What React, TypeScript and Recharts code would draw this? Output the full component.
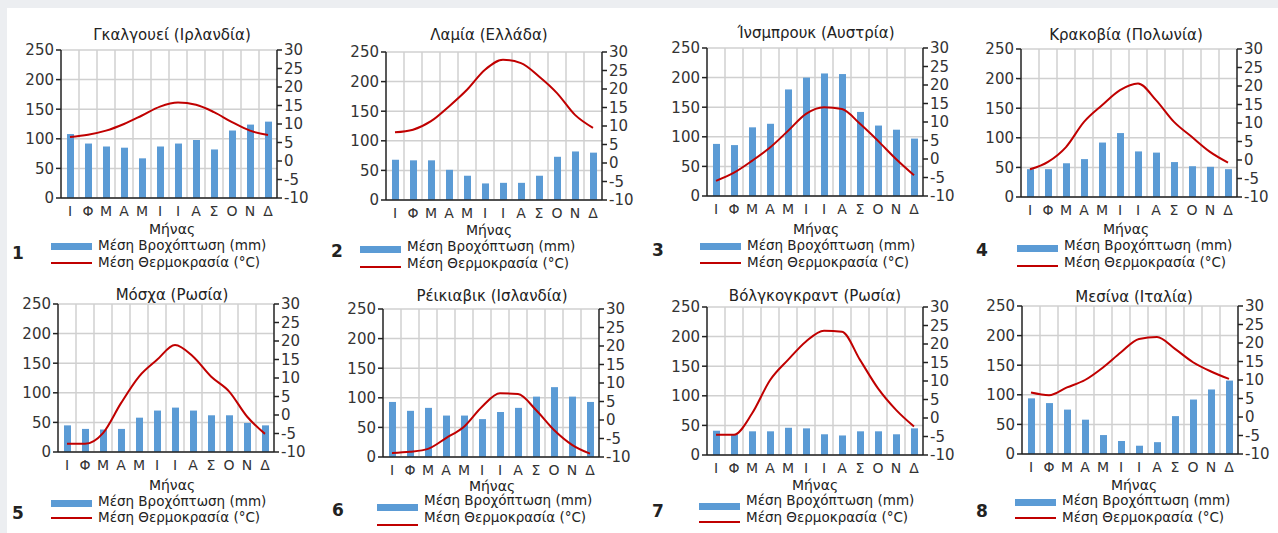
import { ComposedChart, Bar, Line, XAxis, YAxis, CartesianGrid } from 'recharts'

const months = ['Ι', 'Φ', 'Μ', 'Α', 'Μ', 'Ι', 'Ι', 'Α', 'Σ', 'Ο', 'Ν', 'Δ']
const rainTicks = [0, 50, 100, 150, 200, 250]
const tempTicks = [-10, -5, 0, 5, 10, 15, 20, 25, 30]

const titles = [
  'Γκαλγουεί (Ιρλανδία)',
  'Λαμία (Ελλάδα)',
  'Ίνσμπρουκ (Αυστρία)',
  'Κρακοβία (Πολωνία)',
  'Μόσχα (Ρωσία)',
  'Ρέικιαβικ (Ισλανδία)',
  'Βόλγκογκραντ (Ρωσία)',
  'Μεσίνα (Ιταλία)',
]

const galwayRain = [108, 92, 87, 85, 67, 87, 92, 98, 82, 114, 124, 129]
const galwayTemp = [6.5, 7.1, 8.2, 10, 12.3, 14.7, 15.8, 15.2, 13.2, 10.5, 8.2, 7.0]
const lamiaRain = [68, 67, 67, 51, 41, 28, 29, 29, 41, 73, 82, 80]
const lamiaTemp = [8.3, 9.0, 11.3, 15.3, 19.8, 25.2, 27.9, 27.0, 23.4, 18.9, 13.0, 9.5]
const innsbruckRain = [88, 86, 116, 122, 180, 200, 207, 206, 142, 119, 112, 97]
const innsbruckTemp = [-5.9, -3.7, -0.5, 3.1, 7.6, 12.2, 14, 13.5, 9.5, 4.9, 0, -4.4]
const krakowRain = [47, 47, 57, 64, 92, 108, 77, 75, 59, 52, 51, 47]
const krakowTemp = [-2.5, -0.5, 3.5, 10.3, 14.8, 18.9, 20.7, 16.2, 10.3, 6.2, 2.2, -0.7]
const moscowRain = [45, 39, 38, 39, 58, 70, 75, 70, 62, 62, 49, 45]
const moscowTemp = [-7.8, -7.8, -4.9, 3.2, 10.4, 14.9, 18.9, 15.8, 10.4, 6.4, -0.4, -5.1]
const reykjavikRain = [93, 78, 83, 70, 70, 64, 76, 83, 102, 118, 102, 93]
const reykjavikTemp = [-8.9, -8.6, -7.8, -4.9, -1.8, 3.6, 7.2, 7.0, 2.7, -2.7, -6.7, -9.1]
const volgogradRain = [41, 35, 40, 40, 46, 45, 35, 33, 40, 40, 35, 45]
const volgogradTemp = [-4.5, -4.5, 1.2, 10.2, 15.7, 20.7, 23.6, 23.3, 15.7, 8.0, 2.2, -2.3]
const messinaRain = [94, 86, 75, 58, 32, 22, 14, 20, 64, 92, 109, 124]
const messinaTemp = [6.6, 5.9, 8.0, 10, 13.4, 17.5, 21.1, 21.6, 18.4, 14.8, 12.3, 10.3]

const rains = [galwayRain, lamiaRain, innsbruckRain, krakowRain, moscowRain, reykjavikRain, volgogradRain, messinaRain]
const temps = [galwayTemp, lamiaTemp, innsbruckTemp, krakowTemp, moscowTemp, reykjavikTemp, volgogradTemp, messinaTemp]

// page layout of each panel: plot left/top, title centre, axis label y, legend, number
const layout = [
  { L: 61, T: 50, tx: 172, ty: 35, my: 229, lx: 51, ly: [246, 263], sy: [246, 263], nx: 18, ny: 253 },
  { L: 386, T: 52, tx: 489, ty: 35, my: 230, lx: 360, ly: [247, 264], sy: [249, 267], nx: 337, ny: 251 },
  { L: 707, T: 48, tx: 816, ty: 33, my: 229, lx: 700, ly: [246, 263], sy: [246, 263], nx: 658, ny: 250 },
  { L: 1021, T: 49, tx: 1126, ty: 35, my: 229, lx: 1017, ly: [246, 263], sy: [248, 266], nx: 982, ny: 250 },
  { L: 58, T: 304, tx: 172, ty: 295, my: 485, lx: 51, ly: [502, 518], sy: [503, 518], nx: 18, ny: 513 },
  { L: 383, T: 309, tx: 492, ty: 296, my: 486, lx: 377, ly: [501, 518], sy: [507, 525], nx: 338, ny: 510 },
  { L: 707, T: 307, tx: 815, ty: 296, my: 485, lx: 699, ly: [501, 518], sy: [506, 522], nx: 658, ny: 511 },
  { L: 1022, T: 306, tx: 1134, ty: 297, my: 485, lx: 1015, ly: [501, 518], sy: [502, 518], nx: 982, ny: 511 },
]

const FONT = '"DejaVu Sans", sans-serif'
const BLUE = '#5b9bd5'
const RED = '#c00000'
const AXIS = '#222'
const GRID = '#d0d0d0'
const PLOT_W = 216
const PLOT_H = 148

function Panel({ idx }: { idx: number }) {
  const p = layout[idx]
  const data = months.map((m, i) => ({ m, rain: rains[idx][i], temp: temps[idx][i] }))
  const textStyle = (x: number, y: number, size: number, extra = {}) => ({
    position: 'absolute' as const,
    left: x,
    top: y,
    transform: 'translate(-50%, -50%)',
    fontFamily: FONT,
    fontSize: size,
    color: '#222',
    whiteSpace: 'nowrap' as const,
    lineHeight: 1,
    ...extra,
  })
  const tick = { fontSize: 15, fill: '#333', fontFamily: FONT }
  return (
    <>
      <div style={textStyle(p.tx, p.ty, 15)}>{titles[idx]}</div>
      <div style={{ position: 'absolute', left: p.L - 60, top: p.T - 10 }}>
        <ComposedChart
          width={60 + PLOT_W + 45}
          height={10 + PLOT_H + 22}
          data={data}
          margin={{ top: 10, right: 0, left: 0, bottom: 0 }}
        >
          <CartesianGrid
            yAxisId="rain"
            stroke={GRID}
            strokeWidth={1.5}
            verticalCoordinatesGenerator={({ offset }: any) =>
              Array.from({ length: 11 }, (_, i) => offset.left + ((i + 1) * offset.width) / 12)
            }
          />
          <XAxis
            dataKey="m"
            interval={0}
            height={22}
            tickLine={false}
            axisLine={{ stroke: AXIS, strokeWidth: 1.5 }}
            tick={{ ...tick, fontSize: 14 }}
          />
          <YAxis
            yAxisId="rain"
            width={60}
            domain={[0, 250]}
            ticks={rainTicks}
            interval={0}
            tickSize={5}
            axisLine={{ stroke: AXIS, strokeWidth: 1.5 }}
            tickLine={{ stroke: AXIS, strokeWidth: 1.5 }}
            tick={tick}
          />
          <YAxis
            yAxisId="temp"
            orientation="right"
            width={45}
            domain={[-10, 30]}
            ticks={tempTicks}
            interval={0}
            tickSize={5}
            axisLine={{ stroke: AXIS, strokeWidth: 1.5 }}
            tickLine={{ stroke: AXIS, strokeWidth: 1.5 }}
            tick={{ ...tick, textAnchor: 'start' }}
          />
          <Bar yAxisId="rain" dataKey="rain" fill={BLUE} barSize={7} isAnimationActive={false} />
          <Line
            yAxisId="temp"
            dataKey="temp"
            type="monotone"
            stroke={RED}
            strokeWidth={2}
            dot={false}
            isAnimationActive={false}
          />
        </ComposedChart>
      </div>
      <div style={textStyle(p.tx, p.my, 14)}>Μήνας</div>
      <div style={{ position: 'absolute', left: p.lx, top: p.sy[0] - 3.5, width: 41, height: 7, background: BLUE }} />
      <div style={{ position: 'absolute', left: p.lx, top: p.sy[1] - 1, width: 41, height: 2, background: RED }} />
      <div style={textStyle(p.lx + 47, p.ly[0], 13.5, { transform: 'translate(0, -50%)' })}>
        Μέση Βροχόπτωση (mm)
      </div>
      <div style={textStyle(p.lx + 47, p.ly[1], 13.5, { transform: 'translate(0, -50%)' })}>
        Μέση Θερμοκρασία (°C)
      </div>
      <div style={textStyle(p.nx, p.ny, 17, { fontWeight: 'bold' })}>{idx + 1}</div>
    </>
  )
}

export default function App() {
  return (
    <div style={{ position: 'fixed', left: 0, top: 0, width: 1278, height: 533, background: '#eceef1', overflow: 'hidden' }}>
      <div style={{ position: 'absolute', left: 7, top: 8, right: 0, bottom: 0, background: '#fff' }} />
      {titles.map((_, i) => (
        <Panel key={i} idx={i} />
      ))}
    </div>
  )
}
